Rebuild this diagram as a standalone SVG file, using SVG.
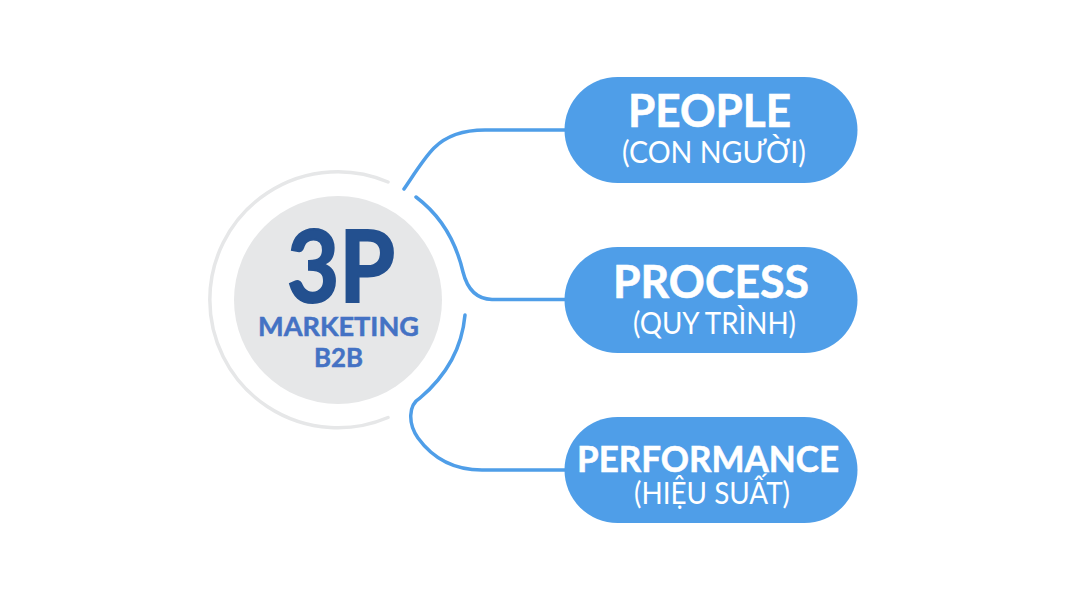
<svg xmlns="http://www.w3.org/2000/svg" width="1080" height="600" viewBox="0 0 1080 600">
<style>
.pill{fill:#4f9ee8}
.t{font-family:"Lato","Liberation Sans",sans-serif;fill:#fff;text-anchor:middle}
.big{font-weight:700;stroke:#fff;stroke-width:.6}
.small{font-size:30px;font-weight:400}
.c{fill:none;stroke:#4f9ee8;stroke-width:3.5;stroke-linecap:round}
.m{font-family:"Lato","Liberation Sans",sans-serif;fill:#4472c4;stroke:#4472c4;stroke-width:.5;text-anchor:middle;font-size:27px;font-weight:700}
</style>
<rect width="1080" height="600" fill="#fff"/>
<g id="connectors">
<path class="c" d="M404 189C415 173 424 158 434 148C446 136 462 130 485 130H565"/>
<path class="c" d="M416 197C440 215 456 242 463 272C467 288 476 299 492 299.500H565"/>
<path class="c" d="M465 315C462 348 446 376 420 398C408 405 408 424 418 438C434 460 456 470 482 470H565"/>
</g>
<g id="center">
<path d="M388 182A128 128 0 1 0 388 417.500" fill="none" stroke="#e6e7e8" stroke-width="3.500" stroke-linecap="round"/>
<circle cx="338" cy="300" r="104" fill="#e6e7e8"/>
<text x="341" y="302" font-family="Lato,'Liberation Sans',sans-serif" font-size="99" font-weight="700" fill="#23508f" stroke="#23508f" stroke-width="2" text-anchor="middle" textLength="108" lengthAdjust="spacingAndGlyphs">3P</text>
<text class="m" x="338.500" y="336" textLength="161" lengthAdjust="spacingAndGlyphs">MARKETING</text>
<text class="m" x="338.500" y="367" textLength="49" lengthAdjust="spacingAndGlyphs">B2B</text>
</g>
<g id="people"><rect class="pill" x="564.500" y="77" width="293" height="106" rx="53"/><text class="t big" x="709.500" y="127" font-size="46" textLength="163" lengthAdjust="spacingAndGlyphs">PEOPLE</text><text class="t small" x="714" y="162.500" textLength="184" lengthAdjust="spacingAndGlyphs">(CON NGƯỜI)</text></g>
<g id="process"><rect class="pill" x="564.500" y="247" width="293" height="106" rx="53"/><text class="t big" x="711" y="298" font-size="46" textLength="196" lengthAdjust="spacingAndGlyphs">PROCESS</text><text class="t small" x="714.500" y="333.500" textLength="163" lengthAdjust="spacingAndGlyphs">(QUY TRÌNH)</text></g>
<g id="performance"><rect class="pill" x="564.500" y="417" width="293" height="106" rx="53"/><text class="t big" x="708" y="472" font-size="37" textLength="262" lengthAdjust="spacingAndGlyphs">PERFORMANCE</text><text class="t small" x="712" y="504" textLength="156" lengthAdjust="spacingAndGlyphs">(HIỆU SUẤT)</text></g>
</svg>
